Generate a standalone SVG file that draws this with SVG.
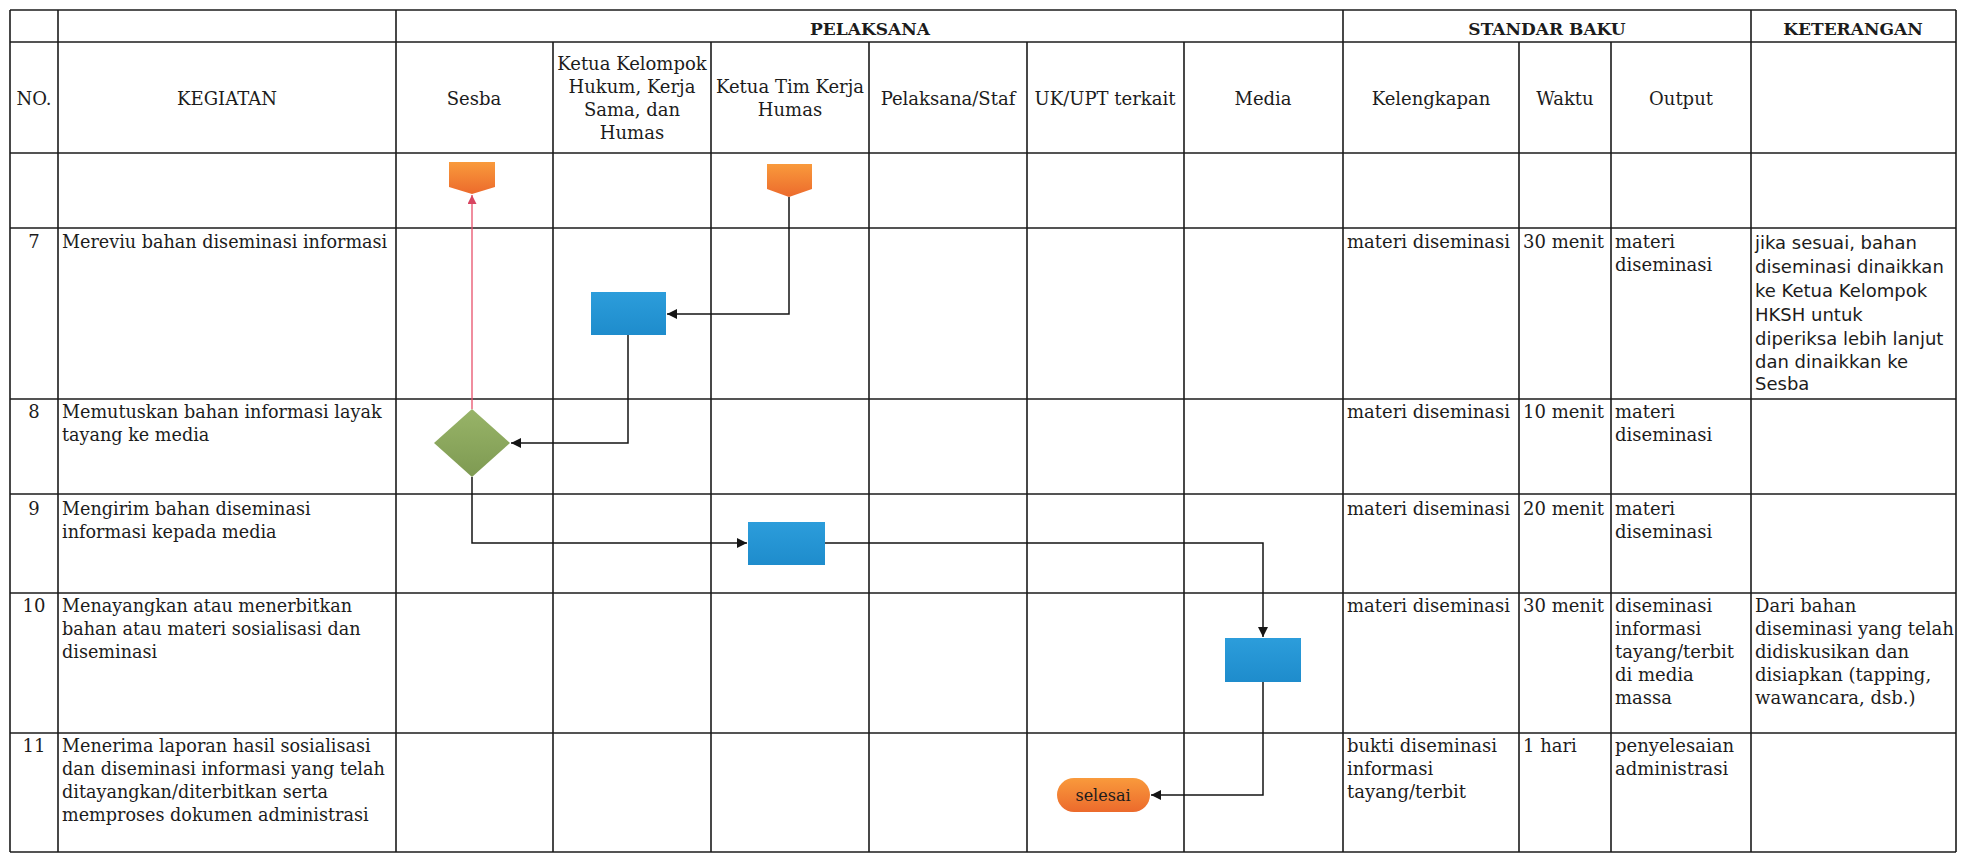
<svg xmlns="http://www.w3.org/2000/svg" width="1968" height="855" viewBox="0 0 1968 855">
<style>
.grid{stroke:#1c1c1c;stroke-width:1.6;fill:none}
.t{font-family:"DejaVu Serif",serif;font-size:18px;fill:#1c1c1c}
.k{font-size:17.6px}
.c{text-anchor:middle}
.b{font-weight:bold;font-size:17px}
.s{font-family:"DejaVu Sans",sans-serif;font-size:18px}
.conn{stroke:#151515;stroke-width:1.5;fill:none}
.red{stroke:#e8506a;stroke-width:1.3;fill:none}
</style>
<defs>
<linearGradient id="og" x1="0" y1="0" x2="0" y2="1"><stop offset="0" stop-color="#f99a3c"/><stop offset="1" stop-color="#ec6a2c"/></linearGradient>
<linearGradient id="bg" x1="0" y1="0" x2="0" y2="1"><stop offset="0" stop-color="#2c9ddb"/><stop offset="1" stop-color="#1e8ccc"/></linearGradient>
<linearGradient id="gg" x1="0" y1="0" x2="0" y2="1"><stop offset="0" stop-color="#98b468"/><stop offset="1" stop-color="#7e9a52"/></linearGradient>
<marker id="ah" viewBox="0 0 10 10" refX="10" refY="5" markerWidth="10" markerHeight="10" markerUnits="userSpaceOnUse" orient="auto"><path d="M0,0 L10,5 L0,10 z" fill="#151515"/></marker>
<marker id="ahr" viewBox="0 0 10 10" refX="10" refY="5" markerWidth="9" markerHeight="9" markerUnits="userSpaceOnUse" orient="auto"><path d="M0,0 L10,5 L0,10 z" fill="#d84560"/></marker>
</defs>
<rect x="0" y="0" width="1968" height="855" fill="#ffffff"/>
<g id="table" class="grid">
<path d="M10,10 H1956 M10,42 H1956 M10,153 H1956 M10,228 H1956 M10,399 H1956 M10,494 H1956 M10,593 H1956 M10,733 H1956 M10,852 H1956"/>
<path d="M10,10 V852 M58,10 V852 M396,10 V852 M1343,10 V852 M1751,10 V852 M1956,10 V852"/>
<path d="M553,42 V852 M711,42 V852 M869,42 V852 M1027,42 V852 M1184,42 V852 M1519,42 V852 M1611,42 V852"/>
</g>
<g id="headers" class="t">
<text class="c b" x="870" y="35">PELAKSANA</text>
<text class="c b" x="1547" y="35">STANDAR BAKU</text>
<text class="c b" x="1853" y="35">KETERANGAN</text>
<text class="c" x="34" y="105">NO.</text>
<text class="c" x="227" y="105">KEGIATAN</text>
<text class="c" x="474" y="105">Sesba</text>
<text class="c" x="632" y="70">Ketua Kelompok</text>
<text class="c" x="632" y="93">Hukum, Kerja</text>
<text class="c" x="632" y="116">Sama, dan</text>
<text class="c" x="632" y="139">Humas</text>
<text class="c" x="790" y="93">Ketua Tim Kerja</text>
<text class="c" x="790" y="116">Humas</text>
<text class="c" x="948" y="105">Pelaksana/Staf</text>
<text class="c" x="1105" y="105">UK/UPT terkait</text>
<text class="c" x="1263" y="105">Media</text>
<text class="c" x="1431" y="105">Kelengkapan</text>
<text class="c" x="1565" y="105">Waktu</text>
<text class="c" x="1681" y="105">Output</text>
</g>
<g id="row7" class="t">
<text class="c" x="34" y="248">7</text>
<text class="k" x="62" y="248">Mereviu bahan diseminasi informasi</text>
<text x="1347" y="248">materi diseminasi</text>
<text x="1523" y="248">30 menit</text>
<text x="1615" y="248">materi</text>
<text x="1615" y="271">diseminasi</text>
<g class="s"><text x="1755" y="249">jika sesuai, bahan</text>
<text x="1755" y="273">diseminasi dinaikkan</text>
<text x="1755" y="297">ke Ketua Kelompok</text>
<text x="1755" y="321">HKSH untuk</text>
<text x="1755" y="345">diperiksa lebih lanjut</text>
<text x="1755" y="368">dan dinaikkan ke</text>
<text x="1755" y="390">Sesba</text></g>
</g>
<g id="row8" class="t">
<text class="c" x="34" y="418">8</text>
<text class="k" x="62" y="418">Memutuskan bahan informasi layak</text>
<text class="k" x="62" y="441">tayang ke media</text>
<text x="1347" y="418">materi diseminasi</text>
<text x="1523" y="418">10 menit</text>
<text x="1615" y="418">materi</text>
<text x="1615" y="441">diseminasi</text>
</g>
<g id="row9" class="t">
<text class="c" x="34" y="515">9</text>
<text class="k" x="62" y="515">Mengirim bahan diseminasi</text>
<text class="k" x="62" y="538">informasi kepada media</text>
<text x="1347" y="515">materi diseminasi</text>
<text x="1523" y="515">20 menit</text>
<text x="1615" y="515">materi</text>
<text x="1615" y="538">diseminasi</text>
</g>
<g id="row10" class="t">
<text class="c" x="34" y="612">10</text>
<text class="k" x="62" y="612">Menayangkan atau menerbitkan</text>
<text class="k" x="62" y="635">bahan atau materi sosialisasi dan</text>
<text class="k" x="62" y="658">diseminasi</text>
<text x="1347" y="612">materi diseminasi</text>
<text x="1523" y="612">30 menit</text>
<text x="1615" y="612">diseminasi</text>
<text x="1615" y="635">informasi</text>
<text x="1615" y="658">tayang/terbit</text>
<text x="1615" y="681">di media</text>
<text x="1615" y="704">massa</text>
<text x="1755" y="612">Dari bahan</text>
<text x="1755" y="635">diseminasi yang telah</text>
<text x="1755" y="658">didiskusikan dan</text>
<text x="1755" y="681">disiapkan (tapping,</text>
<text x="1755" y="704">wawancara, dsb.)</text>
</g>
<g id="row11" class="t">
<text class="c" x="34" y="752">11</text>
<text class="k" x="62" y="752">Menerima laporan hasil sosialisasi</text>
<text class="k" x="62" y="775">dan diseminasi informasi yang telah</text>
<text class="k" x="62" y="798">ditayangkan/diterbitkan serta</text>
<text class="k" x="62" y="821">memproses dokumen administrasi</text>
<text x="1347" y="752">bukti diseminasi</text>
<text x="1347" y="775">informasi</text>
<text x="1347" y="798">tayang/terbit</text>
<text x="1523" y="752">1 hari</text>
<text x="1615" y="752">penyelesaian</text>
<text x="1615" y="775">administrasi</text>
</g>
<g id="connectors">
<path class="red" d="M472,409 V195" marker-end="url(#ahr)"/>
<path class="conn" d="M789,197 V314 H667" marker-end="url(#ah)"/>
<path class="conn" d="M628,335 V443 H511" marker-end="url(#ah)"/>
<path class="conn" d="M472,477 V543 H747" marker-end="url(#ah)"/>
<path class="conn" d="M825,543 H1263 V637" marker-end="url(#ah)"/>
<path class="conn" d="M1263,682 V795 H1151" marker-end="url(#ah)"/>
</g>
<g id="start-sesba"><path d="M449,162 H495 V187 L472,194 L449,187 Z" fill="url(#og)"/></g>
<g id="start-humas"><path d="M767,164 H812 V189 L789,197 L767,189 Z" fill="url(#og)"/></g>
<g id="review-kelompok"><rect x="591" y="292" width="75" height="43" fill="url(#bg)"/></g>
<g id="decision-sesba"><path d="M472,409 L510,443 L472,477 L434,443 Z" fill="url(#gg)"/></g>
<g id="send-humas"><rect x="748" y="522" width="77" height="43" fill="url(#bg)"/></g>
<g id="publish-media"><rect x="1225" y="638" width="76" height="44" fill="url(#bg)"/></g>
<g id="end-selesai"><rect x="1057" y="778" width="93" height="34" rx="17" fill="url(#og)"/><text class="t c" x="1103" y="801" style="font-size:16px">selesai</text></g>
</svg>
